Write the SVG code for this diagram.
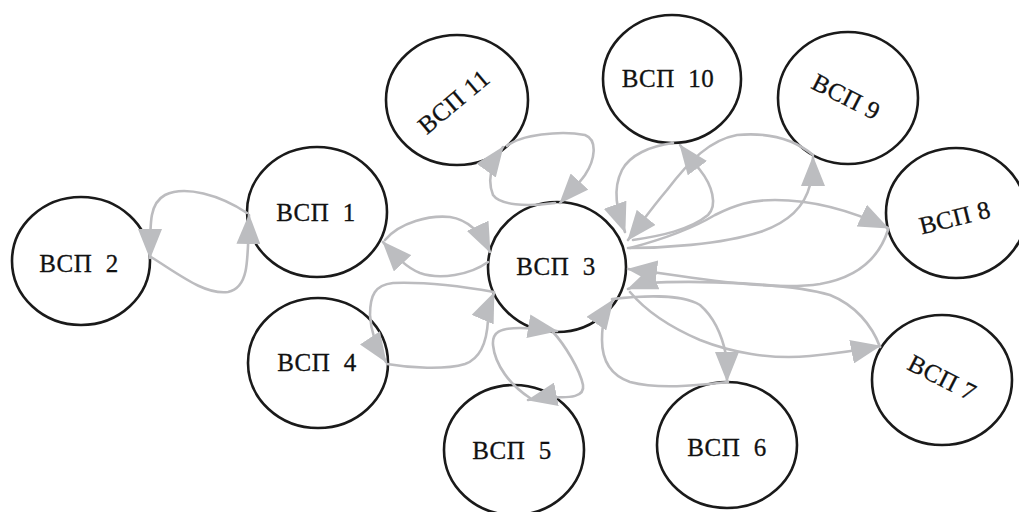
<svg xmlns="http://www.w3.org/2000/svg" width="1019" height="512" viewBox="0 0 1019 512" xml:space="preserve">
<style>
.node ellipse{fill:#fff;stroke:#1a1a1a;stroke-width:2.6}
.node text{font-family:"Liberation Serif","Times New Roman",serif;font-size:25px;fill:#111;stroke:#111;stroke-width:0.3;text-anchor:middle;letter-spacing:0.5px;white-space:pre}
.edges path{fill:none;stroke:#bcbcbf;stroke-width:2.6;stroke-linecap:round;stroke-linejoin:round;marker-end:url(#arr)}
</style>
<defs>
<marker id="arr" viewBox="0 0 30 24" refX="29" refY="12" markerWidth="30" markerHeight="24" markerUnits="userSpaceOnUse" orient="auto">
<path d="M0,0 L30,12 L0,24 z" fill="#bcbdc0"/>
</marker>
</defs>
<rect width="1019" height="512" fill="#fff"/>
<g id="nodes">
<g id="n2" class="node"><ellipse cx="81" cy="261" rx="69" ry="64"/><text x="79" y="272">ВСП  2</text></g>
<g id="n1" class="node"><ellipse cx="317" cy="212" rx="70" ry="65"/><text x="316" y="221">ВСП  1</text></g>
<g id="n3" class="node"><ellipse cx="557" cy="267" rx="69" ry="65"/><text x="556" y="275">ВСП  3</text></g>
<g id="n4" class="node"><ellipse cx="318" cy="363" rx="70" ry="65"/><text x="317" y="371">ВСП  4</text></g>
<g id="n5" class="node"><ellipse cx="514" cy="450" rx="70" ry="65"/><text x="512" y="459">ВСП  5</text></g>
<g id="n6" class="node"><ellipse cx="727" cy="445" rx="70" ry="63"/><text x="727" y="456">ВСП  6</text></g>
<g id="n7" class="node"><ellipse cx="942" cy="380" rx="70" ry="65"/><text transform="translate(942,378) rotate(27)" x="0" y="8">ВСП 7</text></g>
<g id="n8" class="node"><ellipse cx="956" cy="213" rx="70" ry="65"/><text transform="translate(955,218) rotate(-14)" x="0" y="8">ВСП 8</text></g>
<g id="n9" class="node"><ellipse cx="848" cy="98" rx="70" ry="66"/><text transform="translate(846,97) rotate(27)" x="0" y="8">ВСП 9</text></g>
<g id="n10" class="node"><ellipse cx="672" cy="79" rx="69" ry="64"/><text x="668" y="87">ВСП  10</text></g>
<g id="n11" class="node"><ellipse cx="457" cy="100" rx="71" ry="65"/><text transform="translate(454,102) rotate(-40)" x="0" y="8">ВСП 11</text></g>
</g>
<g id="connectors" class="edges">
<path d="M247,213 C220,195 185,185 165,195 C150,203 150,220 150,258"/>
<path d="M151,257 C180,275 205,295 228,292 C248,288 248,265 249,215"/>
<path d="M385,240 C400,222 430,215 450,217 C470,220 482,235 490,252"/>
<path d="M488,262 C470,275 440,280 420,273 C405,267 395,255 383,242"/>
<path d="M507,146 C520,135 560,130 585,135 C598,140 595,160 585,175 C578,185 570,192 560,203"/>
<path d="M555,203 C525,207 500,205 493,195 C487,180 490,165 503,147"/>
<path d="M494,292 C460,286 420,282 393,283 C375,285 370,295 370,315 C371,335 378,350 386,362"/>
<path d="M387,364 C410,368 445,370 465,364 C482,358 487,340 488,320 C489,310 491,300 494,293"/>
<path d="M530,398 C510,385 495,365 493,345 C492,332 500,328 520,328 C535,328 545,329 557,331"/>
<path d="M553,332 C565,345 580,370 583,385 C585,397 570,398 553,397 C545,397 538,398 528,400"/>
<path d="M728,382 C700,385 660,390 630,382 C610,375 602,360 602,340 C602,320 606,310 613,300"/>
<path d="M612,299 C640,296 680,293 700,305 C715,318 722,335 726,355 C727,365 727,372 727,381"/>
<path d="M630,292 C645,310 665,325 700,340 C730,352 770,360 810,356 C840,353 860,350 880,346"/>
<path d="M880,347 C872,325 855,305 830,295 C790,283 700,280 645,283 C638,285 633,287 628,289"/>
<path d="M888,230 C880,255 860,277 820,284 C780,290 720,282 680,276 C660,273 645,271 628,269"/>
<path d="M630,248 C660,240 690,230 715,215 C735,205 750,200 775,200 C810,200 850,210 888,228"/>
<path d="M628,248 C660,248 720,245 760,232 C790,222 805,205 810,185 C812,175 813,165 813,157"/>
<path d="M813,155 C795,140 770,132 737,135 C710,140 690,160 667,190 C650,210 640,225 628,240"/>
<path d="M673,143 C650,146 630,155 622,170 C612,190 617,210 625,232"/>
<path d="M633,240 C660,236 690,230 708,215 C718,205 712,185 700,170 C692,160 686,153 680,145"/>
</g>
</svg>
